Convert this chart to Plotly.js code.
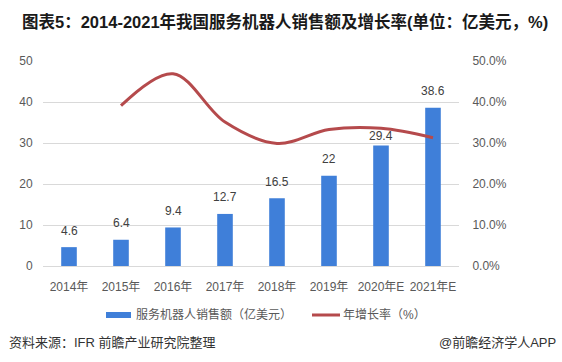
<!DOCTYPE html>
<html><head><meta charset="utf-8">
<script src="https://cdn.plot.ly/plotly-3.0.1.min.js"></script>
<style>html,body{margin:0;padding:0;background:#fff;}#c{width:562px;height:362px;}</style>
</head><body><div id="c"></div>
<script>
const years = ['2014年','2015年','2016年','2017年','2018年','2019年','2020年E','2021年E'];
const sales = [4.6, 6.4, 9.4, 12.7, 16.5, 22, 29.4, 38.6];
const salesLabels = ['4.6','6.4','9.4','12.7','16.5','22','29.4','38.6'];
const growthYears = ['2015年','2016年','2017年','2018年','2019年','2020年E','2021年E'];
const growth = [0.391, 0.469, 0.351, 0.299, 0.333, 0.336, 0.313];
const barName = '服务机器人销售额（亿美元）';
const lineName = '年增长率（%）';

const F = '"Liberation Sans", "Noto Sans CJK SC", Arial, sans-serif';
const BLUE = '#3f7fd9', RED = '#b54a4c';
const data = [
  {type:'bar', x:years, y:sales, name:barName, marker:{color:BLUE}, width:0.3},
  {type:'scatter', mode:'lines', x:growthYears, y:growth, yaxis:'y2', name:lineName,
   line:{color:RED, width:3, shape:'spline', smoothing:1}}
];
// the 2020 label sits tucked just under the growth line in the reference
const labelAnns = years.map((c, i) => ({
  x:c, y:sales[i], xref:'x', yref:'y', text:salesLabels[i], showarrow:false,
  yanchor:'bottom', yshift:(c === '2020年E' ? 0 : 7.5), font:{family:F, size:12, color:'#404040'}
}));
const tickFont = {family:F, size:12, color:'#595959'};
const layout = {
  width:562, height:362,
  margin:{l:43, r:103, t:61, b:96},
  paper_bgcolor:'#fff', plot_bgcolor:'#fff',
  font:{family:F, size:12, color:'#595959'},
  showlegend:false,
  xaxis:{type:'category', showgrid:false, zeroline:false, showline:false,
         ticks:'outside', ticklen:10, tickcolor:'rgba(0,0,0,0)', tickfont:tickFont},
  yaxis:{range:[0,50], dtick:10, showgrid:true, gridcolor:'#d9d9d9', gridwidth:1,
         zeroline:true, zerolinecolor:'#d9d9d9', showline:false,
         ticks:'outside', ticklen:7, tickcolor:'rgba(0,0,0,0)', tickfont:tickFont},
  yaxis2:{overlaying:'y', side:'right', range:[0,0.5], dtick:0.1, tickformat:'.1%',
          showgrid:false, zeroline:false, showline:false,
          ticks:'outside', ticklen:10, tickcolor:'rgba(0,0,0,0)', tickfont:tickFont},
  shapes:[
    {type:'rect', xref:'paper', yref:'paper', x0:0.1514, x1:0.2115, y0:-0.2537, y1:-0.2244,
     fillcolor:BLUE, line:{width:0}},
    {type:'line', xref:'paper', yref:'paper', x0:0.6466, x1:0.714, y0:-0.239, y1:-0.239,
     line:{color:RED, width:3}}
  ],
  annotations: labelAnns.concat([
    {xref:'paper', yref:'paper', x:0.2188, y:-0.239, xanchor:'left', yanchor:'middle', showarrow:false,
     text:barName, font:{family:F, size:12, color:'#595959'}},
    {xref:'paper', yref:'paper', x:0.7163, y:-0.239, xanchor:'left', yanchor:'middle', showarrow:false,
     text:lineName, font:{family:F, size:12, color:'#595959'}},
    {xref:'paper', yref:'paper', x:-0.0553, y:1.195, xanchor:'left', yanchor:'middle', showarrow:false,
     text:'<b>图表5：2014-2021年我国服务机器人销售额及增长率(单位：亿美元，%)</b>',
     font:{family:F, size:16.5, color:'#1a1a1a'}},
    {xref:'paper', yref:'paper', x:-0.0865, y:-0.3756, xanchor:'left', yanchor:'middle', showarrow:false,
     text:'资料来源：IFR 前瞻产业研究院整理', font:{family:F, size:13, color:'#333'}},
    {xref:'paper', yref:'paper', x:1.238, y:-0.3756, xanchor:'right', yanchor:'middle', showarrow:false,
     text:'@前瞻经济学人APP', font:{family:F, size:13, color:'#333'}}
  ])
};
Plotly.newPlot('c', data, layout, {displayModeBar:false, staticPlot:true});
</script></body></html>
